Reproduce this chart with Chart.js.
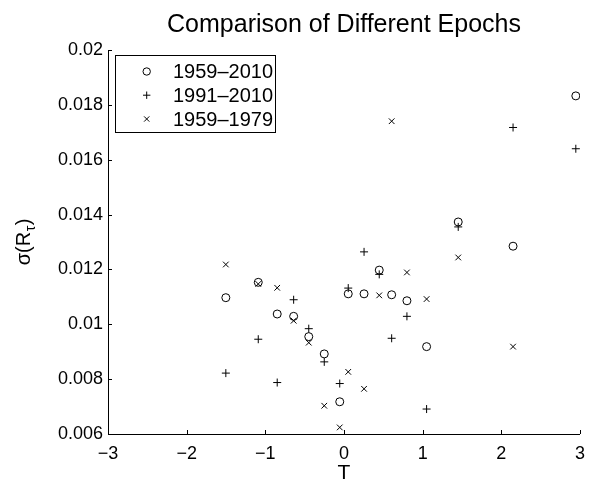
<!DOCTYPE html>
<html>
<head>
<meta charset="utf-8">
<script src="https://cdn.jsdelivr.net/npm/chart.js@4/dist/chart.umd.min.js"></script>
<style>
  html, body { margin: 0; padding: 0; background: #fff; }
  canvas { display: block; }
</style>
</head>
<body>
<canvas id="c" width="594" height="483"></canvas>
<script>
// T values shared by all three epochs
const T = [-1.502, -1.09, -0.849, -0.64, -0.448, -0.251, -0.054, 0.054, 0.255, 0.448, 0.606, 0.8, 1.05, 1.452, 2.149, 2.947];

// sigma(R_tau) for each epoch
const sigma1959to2010 = [0.01097, 0.01153, 0.010375, 0.01029, 0.00955, 0.00892, 0.007175, 0.01111, 0.01111, 0.011975, 0.011076, 0.010858, 0.009185, 0.01373, 0.012847, 0.018327];
const sigma1991to2010 = [0.00822, 0.009455, 0.007876, 0.010895, 0.00984, 0.00863, 0.00784, 0.01132, 0.01264, 0.01182, 0.00949, 0.01029, 0.00691, 0.01355, 0.017175, 0.0164];
const sigma1959to1979 = [0.01218, 0.01147, 0.01133, 0.01013, 0.00933, 0.00703, 0.00624, 0.008265, 0.007647, 0.011055, 0.017404, 0.01189, 0.01092, 0.012436, 0.009185, null];

const seriesLabels = ['1959–2010', '1991–2010', '1959–1979'];
const xTicks = [-3, -2, -1, 0, 1, 2, 3];
const yTicks = [0.006, 0.008, 0.01, 0.012, 0.014, 0.016, 0.018, 0.02];

const FONT = '"Liberation Sans", Arial, Helvetica, sans-serif';

function toPoints(ys) {
  const pts = [];
  ys.forEach((y, i) => { if (y !== null) pts.push({ x: T[i], y: y }); });
  return pts;
}

function marker(ctx, style, x, y, r) {
  ctx.beginPath();
  if (style === 'circle') {
    ctx.arc(x, y, r, 0, Math.PI * 2);
  } else if (style === 'cross') {
    ctx.moveTo(x - r, y); ctx.lineTo(x + r, y);
    ctx.moveTo(x, y - r); ctx.lineTo(x, y + r);
  } else {
    const d = r * Math.SQRT1_2;
    ctx.moveTo(x - d, y - d); ctx.lineTo(x + d, y + d);
    ctx.moveTo(x - d, y + d); ctx.lineTo(x + d, y - d);
  }
  ctx.stroke();
}

// Title, axis titles, inward tick marks and the boxed legend
const decor = {
  id: 'decor',
  afterDraw(chart) {
    const { ctx, chartArea: a, scales } = chart;
    ctx.save();
    ctx.strokeStyle = '#000';
    ctx.fillStyle = '#000';
    ctx.lineWidth = 1;

    ctx.beginPath();
    scales.x.ticks.forEach(t => {
      const px = Math.round(scales.x.getPixelForValue(t.value)) + 0.5;
      ctx.moveTo(px, a.bottom); ctx.lineTo(px, a.bottom - 4);
    });
    scales.y.ticks.forEach(t => {
      const py = Math.round(scales.y.getPixelForValue(t.value)) + 0.5;
      ctx.moveTo(a.left, py); ctx.lineTo(a.left + 4, py);
    });
    ctx.stroke();

    const cx = (a.left + a.right) / 2;
    ctx.textAlign = 'center';
    ctx.textBaseline = 'alphabetic';
    ctx.font = '25px ' + FONT;
    ctx.fillText('Comparison of Different Epochs', cx, 31.5);

    ctx.font = '21px ' + FONT;
    ctx.fillText('T', cx, 478.5);

    // y axis title sigma(R_tau), with a lowered tau
    const cy = (a.top + a.bottom) / 2;
    ctx.translate(30, cy);
    ctx.rotate(-Math.PI / 2);
    ctx.textAlign = 'left';
    const big = '20px ' + FONT, small = '14px ' + FONT;
    ctx.font = big;
    const w1 = ctx.measureText('σ(R').width;
    const w3 = ctx.measureText(')').width;
    ctx.font = small;
    const w2 = ctx.measureText('τ').width + 1;
    let x0 = -(w1 + w2 + w3) / 2;
    ctx.font = big; ctx.fillText('σ(R', x0, 0);
    ctx.font = small; ctx.fillText('τ', x0 + w1 + 0.5, 5);
    ctx.font = big; ctx.fillText(')', x0 + w1 + w2, 0);
    ctx.setTransform(1, 0, 0, 1, 0, 0);

    // legend
    const lx = 115.5, ly = 55.5, lw = 160, lh = 77;
    ctx.fillStyle = '#fff';
    ctx.fillRect(lx, ly, lw, lh);
    ctx.strokeRect(lx, ly, lw, lh);
    ctx.fillStyle = '#000';
    ctx.font = '20px ' + FONT;
    ctx.textBaseline = 'middle';
    ctx.textAlign = 'left';
    const rows = [71.5, 95.2, 119];
    chart.data.datasets.forEach((ds, i) => {
      marker(ctx, ds.pointStyle, 146.7, rows[i], 3.7);
      ctx.fillText(ds.label, 173, rows[i] + 1);
    });
    ctx.restore();
  }
};

const fmt = v => {
  const s = parseFloat(v.toFixed(4)).toString();
  return s.replace('-', '−');
};

new Chart(document.getElementById('c'), {
  type: 'scatter',
  data: {
    datasets: [
      { label: seriesLabels[0], data: toPoints(sigma1959to2010), pointStyle: 'circle' },
      { label: seriesLabels[1], data: toPoints(sigma1991to2010), pointStyle: 'cross' },
      { label: seriesLabels[2], data: toPoints(sigma1959to1979), pointStyle: 'crossRot' }
    ].map(d => Object.assign(d, {
      borderColor: '#000',
      backgroundColor: 'rgba(0,0,0,0)',
      borderWidth: 1,
      pointRadius: 4,
      pointHoverRadius: 4,
      showLine: false
    }))
  },
  options: {
    responsive: false,
    animation: false,
    devicePixelRatio: 1,
    layout: { padding: { top: 50, right: 8, bottom: 0, left: 0 } },
    plugins: { legend: { display: false }, title: { display: false }, tooltip: { enabled: false } },
    scales: {
      x: {
        type: 'linear',
        min: -3, max: 3,
        grid: { display: false, drawTicks: false },
        border: { display: true, color: '#000', width: 1 },
        afterBuildTicks: s => { s.ticks = xTicks.map(v => ({ value: v })); },
        afterFit: s => { s.height = 49; },
        ticks: { color: '#000', padding: 9, maxRotation: 0, font: { family: FONT, size: 18 }, callback: fmt }
      },
      y: {
        type: 'linear',
        min: 0.006, max: 0.02,
        grid: { display: false, drawTicks: false },
        border: { display: true, color: '#000', width: 1 },
        afterBuildTicks: s => { s.ticks = yTicks.map(v => ({ value: v })); },
        afterFit: s => { s.width = 108; },
        ticks: { color: '#000', padding: 5, font: { family: FONT, size: 18 }, callback: fmt }
      }
    }
  },
  plugins: [decor]
});
</script>
</body>
</html>
